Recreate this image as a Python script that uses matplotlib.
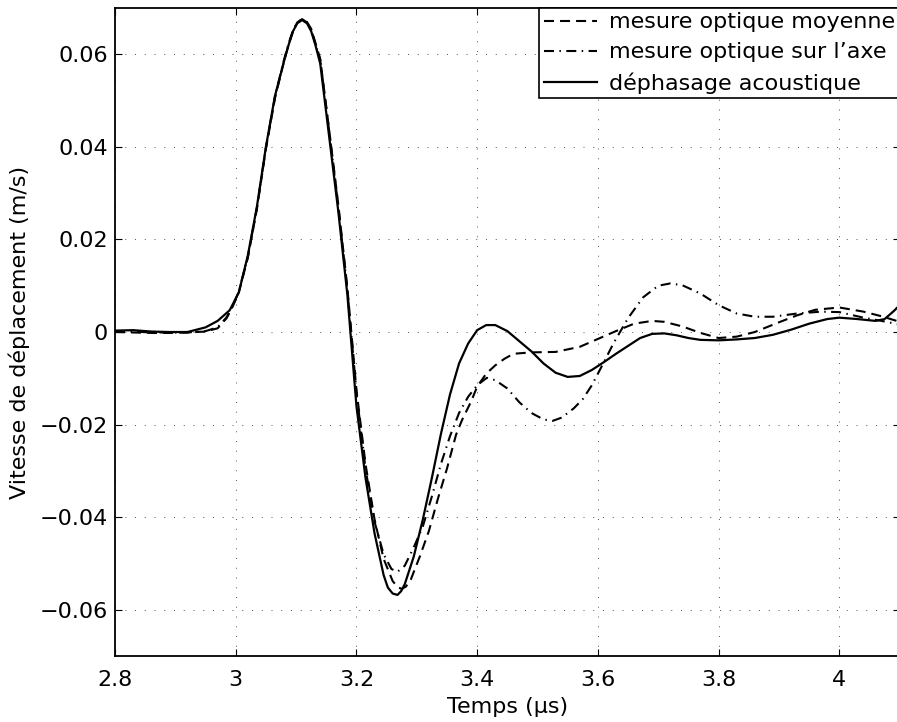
import numpy as np
import matplotlib
matplotlib.use('Agg')
import matplotlib.pyplot as plt

plt.rcParams['font.family'] = ['DejaVu Sans']
plt.rcParams['font.size'] = 16

# déphasage acoustique (solid)
t_ac = [2.80, 2.83, 2.86, 2.89, 2.92, 2.95, 2.97, 2.99, 3.005, 3.02, 3.035, 3.05,
        3.065, 3.08, 3.088, 3.095, 3.102, 3.11, 3.118, 3.125, 3.132, 3.14, 3.155,
        3.17, 3.185, 3.20, 3.215, 3.23, 3.245, 3.252, 3.26, 3.268, 3.274, 3.28,
        3.295, 3.31, 3.325, 3.34, 3.355, 3.37, 3.385, 3.40, 3.415, 3.43, 3.45,
        3.47, 3.49, 3.51, 3.53, 3.55, 3.57, 3.59, 3.61, 3.63, 3.65, 3.67, 3.69,
        3.71, 3.73, 3.75, 3.77, 3.80, 3.83, 3.86, 3.89, 3.92, 3.95, 3.98, 4.00,
        4.03, 4.06, 4.075, 4.09, 4.10]
v_ac = [0.0003, 0.0004, 0.0001, 0.0000, 0.0000, 0.0010, 0.0024, 0.0047, 0.0085,
        0.0165, 0.0270, 0.0400, 0.0510, 0.0585, 0.0622, 0.0650, 0.0667, 0.0674,
        0.0667, 0.0650, 0.0620, 0.0580, 0.0420, 0.0260, 0.0080, -0.0160, -0.0315,
        -0.0435, -0.0525, -0.0552, -0.0565, -0.0568, -0.0560, -0.0545, -0.0485,
        -0.0405, -0.0315, -0.0220, -0.0135, -0.0068, -0.0025, 0.0004, 0.0015,
        0.0015, 0.0002, -0.0020, -0.0042, -0.0068, -0.0088, -0.0097, -0.0095,
        -0.0082, -0.0065, -0.0047, -0.0030, -0.0013, -0.0004, -0.0003, -0.0007,
        -0.0013, -0.0017, -0.0018, -0.0016, -0.0013, -0.0006, 0.0005, 0.0018,
        0.0028, 0.0031, 0.0028, 0.0024, 0.0028, 0.0045, 0.0058]

# mesure optique moyenne (dashed)
t_moy = [2.80, 2.83, 2.86, 2.89, 2.92, 2.95, 2.97, 2.985, 2.995, 3.005, 3.02,
         3.035, 3.05, 3.065, 3.08, 3.088, 3.095, 3.102, 3.11, 3.118, 3.125, 3.132,
         3.14, 3.155, 3.17, 3.185, 3.20, 3.215, 3.23, 3.245, 3.26, 3.268, 3.275,
         3.282, 3.29, 3.305, 3.32, 3.335, 3.35, 3.365, 3.375, 3.39, 3.40, 3.415,
         3.43, 3.445, 3.46, 3.49, 3.53, 3.57, 3.60, 3.63, 3.66, 3.69, 3.71, 3.74,
         3.77, 3.80, 3.83, 3.86, 3.90, 3.93, 3.96, 4.00, 4.04, 4.07, 4.10]
v_moy = [0.0000, -0.0001, -0.0002, -0.0002, -0.0001, 0.0001, 0.0008, 0.0030,
         0.0055, 0.0085, 0.0160, 0.0265, 0.0395, 0.0505, 0.0585, 0.0623, 0.0650,
         0.0669, 0.0676, 0.0670, 0.0655, 0.0625, 0.0590, 0.0435, 0.0275, 0.0095,
         -0.0125, -0.0285, -0.0405, -0.0490, -0.0538, -0.0551, -0.0555, -0.0550,
         -0.0535, -0.0485, -0.0430, -0.0360, -0.0295, -0.0222, -0.0190, -0.0150,
         -0.0118, -0.0090, -0.0072, -0.0058, -0.0047, -0.0044, -0.0043, -0.0032,
         -0.0015, 0.0002, 0.0018, 0.0024, 0.0022, 0.0012, -0.0002, -0.0013,
         -0.0010, 0.0000, 0.0021, 0.0036, 0.0048, 0.0053, 0.0044, 0.0034, 0.0022]

# mesure optique sur l'axe (dash-dot)
t_axe = [2.80, 2.83, 2.86, 2.89, 2.92, 2.95, 2.97, 2.985, 2.995, 3.005, 3.02,
         3.035, 3.05, 3.065, 3.08, 3.088, 3.095, 3.102, 3.11, 3.118, 3.125, 3.132,
         3.14, 3.155, 3.17, 3.185, 3.20, 3.215, 3.23, 3.245, 3.258, 3.268, 3.28,
         3.295, 3.31, 3.325, 3.34, 3.355, 3.37, 3.385, 3.40, 3.416, 3.43, 3.45,
         3.47, 3.49, 3.51, 3.525, 3.54, 3.56, 3.575, 3.59, 3.61, 3.626, 3.65,
         3.675, 3.70, 3.72, 3.74, 3.77, 3.80, 3.83, 3.86, 3.89, 3.93, 3.97, 4.00,
         4.04, 4.07, 4.10]
v_axe = [0.0002, 0.0001, -0.0001, -0.0001, -0.0001, 0.0002, 0.0010, 0.0032,
         0.0056, 0.0087, 0.0162, 0.0268, 0.0398, 0.0508, 0.0588, 0.0625, 0.0652,
         0.0669, 0.0676, 0.0669, 0.0653, 0.0623, 0.0588, 0.0432, 0.0270, 0.0090,
         -0.0130, -0.0295, -0.0410, -0.0480, -0.0512, -0.0518, -0.0505, -0.0465,
         -0.0420, -0.0355, -0.0285, -0.0225, -0.0175, -0.0140, -0.0115, -0.0099,
         -0.0104, -0.0122, -0.0152, -0.0175, -0.0189, -0.0192, -0.0185, -0.0165,
         -0.0145, -0.0115, -0.0065, -0.0024, 0.0030, 0.0075, 0.0100, 0.0105,
         0.0101, 0.0083, 0.0058, 0.0040, 0.0033, 0.0033, 0.0040, 0.0044, 0.0043,
         0.0031, 0.0024, 0.0016]

xticks = [2.8, 3.0, 3.2, 3.4, 3.6, 3.8, 4.0]
xticklabels = ['2.8', '3', '3.2', '3.4', '3.6', '3.8', '4']
yticks = [-0.06, -0.04, -0.02, 0, 0.02, 0.04, 0.06]
yticklabels = ['\u22120.06', '\u22120.04', '\u22120.02', '0', '0.02', '0.04', '0.06']

fig = plt.figure(figsize=(8.97, 7.22), dpi=100)
ax = fig.add_axes([0.1282, 0.0914, 0.8748, 0.8975])

ax.plot(t_moy, v_moy, color='k', lw=1.5, linestyle=(0, (4.8, 2.9)),
        label='mesure optique moyenne')
ax.plot(t_axe, v_axe, color='k', lw=1.5, linestyle=(0, (4.8, 2.6, 0.7, 2.6)),
        label='mesure optique sur l\u2019axe')
ax.plot(t_ac, v_ac, color='k', lw=1.6, label='déphasage acoustique')

ax.set_xlim(2.8, 4.1)
ax.set_ylim(-0.07, 0.07)
ax.set_xticks(xticks)
ax.set_xticklabels(xticklabels)
ax.set_yticks(yticks)
ax.set_yticklabels(yticklabels)
ax.tick_params(direction='in', length=5, width=0.8, top=True, right=True)
ax.tick_params(axis='x', pad=10)
ax.tick_params(axis='y', pad=5)

ax.set_axisbelow(True)
ax.grid(True, linestyle=(0, (1.2, 10.5)), linewidth=0.6, color='0.25')
for s in ax.spines.values():
    s.set_linewidth(1.3)

ax.set_xlabel('Temps (µs)', labelpad=5)
ax.set_ylabel('Vitesse de déplacement (m/s)', labelpad=7)

leg = ax.legend(loc='upper right', bbox_to_anchor=(1, 1), borderaxespad=0,
                fancybox=False, framealpha=1, edgecolor='k', handlelength=2.4,
                handletextpad=0.55, borderpad=0.2, labelspacing=0.45)
leg.get_frame().set_linewidth(1.2)

fig.savefig('out.png', dpi=100)
